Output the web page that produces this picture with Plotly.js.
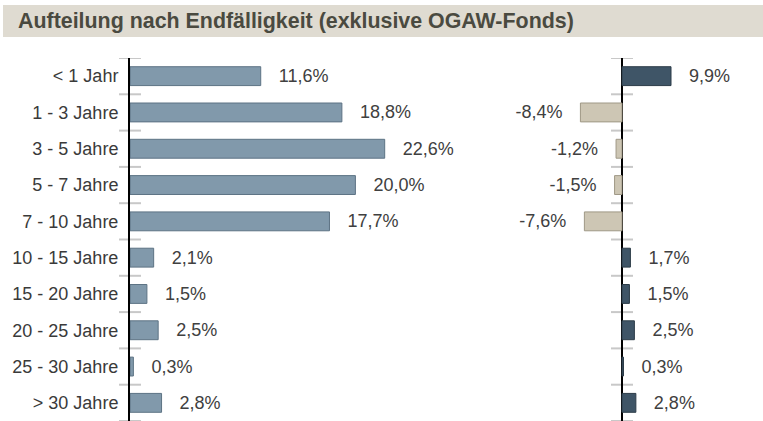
<!DOCTYPE html>
<html>
<head>
<meta charset="utf-8">
<script src="https://cdn.plot.ly/plotly-3.0.1.min.js"></script>
<style>html,body{margin:0;padding:0;background:#fff;}#chart{width:763px;height:421px;}</style>
</head>
<body>
<div id="chart"></div>
<script>
var categories = ["< 1 Jahr", "1 - 3 Jahre", "3 - 5 Jahre", "5 - 7 Jahre", "7 - 10 Jahre",
                  "10 - 15 Jahre", "15 - 20 Jahre", "20 - 25 Jahre", "25 - 30 Jahre", "> 30 Jahre"];
var shares = [11.6, 18.8, 22.6, 20.0, 17.7, 2.1, 1.5, 2.5, 0.3, 2.8];
var changes = [9.9, -8.4, -1.2, -1.5, -7.6, 1.7, 1.5, 2.5, 0.3, 2.8];
var chartTitle = "Aufteilung nach Endfälligkeit (exklusive OGAW-Fonds)";

var W = 763, H = 421, T = 58;
var PH = H - T;
var NB = "\u00a0\u00a0\u00a0";
function fmt(v) { return v.toFixed(1).replace(".", ",") + "%"; }

var leftText = shares.map(function (v) { return NB + fmt(v); });
var rightText = changes.map(function (v) { return v < 0 ? fmt(v) + NB : NB + fmt(v); });
var rightFill = changes.map(function (v) { return v < 0 ? "#cdc6b4" : "#3f5567"; });
var rightLine = changes.map(function (v) { return v < 0 ? "#9f9886" : "#2c3c48"; });

var lfont = { family: "Liberation Sans, Arial, sans-serif", size: 18, color: "#404040" };

var traces = [
  { type: "bar", orientation: "h", y: categories, x: shares, xaxis: "x", yaxis: "y",
    marker: { color: "#8199ab", line: { color: "#5d7384", width: 1 } },
    text: leftText, textposition: "outside", textfont: lfont, constraintext: "none",
    cliponaxis: false, hoverinfo: "none" },
  { type: "bar", orientation: "h", y: categories, x: changes, xaxis: "x2", yaxis: "y",
    marker: { color: rightFill, line: { color: rightLine, width: 1 } },
    text: rightText, textposition: "outside", textfont: lfont, constraintext: "none",
    cliponaxis: false, hoverinfo: "none" }
];

// pixel geometry
var lAxis = 130, lScale = 11.27, lEnd = 470;
var rStart = 480, rAxis = 622, rScale = 4.95;

var shapes = [
  { type: "rect", xref: "paper", yref: "paper", x0: 3 / W, x1: 1,
    y0: (H - 37) / PH, y1: (H - 5) / PH, fillcolor: "#dfdbd1", line: { width: 0 }, layer: "below" }
];
for (var i = 0; i <= categories.length; i++) {
  var yb = i - 0.5;
  shapes.push({ type: "line", xref: "paper", yref: "y", x0: (lAxis - 11) / W, x1: (lAxis + 11) / W,
    y0: yb, y1: yb, line: { color: "#c8c8c8", width: 2 }, layer: "below" });
  shapes.push({ type: "line", xref: "paper", yref: "y", x0: (rAxis - 11) / W, x1: (rAxis + 11) / W,
    y0: yb, y1: yb, line: { color: "#c8c8c8", width: 2 }, layer: "below" });
}

var layout = {
  width: W, height: H,
  margin: { l: 0, r: 0, t: T, b: 0, pad: 0 },
  paper_bgcolor: "#ffffff", plot_bgcolor: "rgba(0,0,0,0)",
  showlegend: false, bargap: 0.48,
  title: { text: chartTitle, x: 18 / W, xanchor: "left", xref: "container",
    y: 1 - 21 / H, yanchor: "middle", yref: "container",
    font: { family: "Liberation Sans, Arial, sans-serif", size: 21.4, weight: "bold", color: "#4a4a40" } },
  xaxis: { domain: [lAxis / W, lEnd / W], range: [0, (lEnd - lAxis) / lScale],
    showgrid: false, zeroline: false, showticklabels: false, showline: false, fixedrange: true },
  xaxis2: { domain: [rStart / W, 1], range: [-(rAxis - rStart) / rScale, (W - rAxis) / rScale],
    anchor: "y", showgrid: false, zeroline: true, zerolinecolor: "#000000", zerolinewidth: 2,
    showticklabels: false, showline: false, fixedrange: true },
  yaxis: { anchor: "x", autorange: false, range: [categories.length - 0.5, -0.5],
    showgrid: false, zeroline: false, showline: true, linecolor: "#000000", linewidth: 2,
    ticks: "outside", ticklen: 6, tickcolor: "rgba(0,0,0,0)",
    tickfont: { family: "Liberation Sans, Arial, sans-serif", size: 18, color: "#3a3a3a" },
    fixedrange: true },
  shapes: shapes
};

Plotly.newPlot("chart", traces, layout, { displayModeBar: false, staticPlot: true });
</script>
</body>
</html>
